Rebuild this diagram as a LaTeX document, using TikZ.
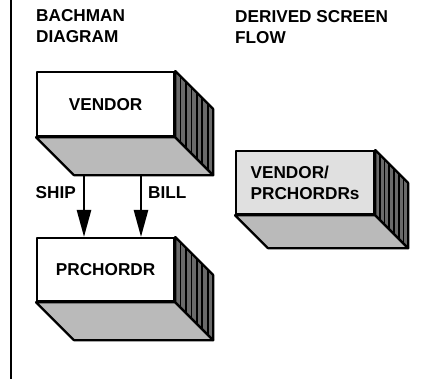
\documentclass[tikz,border=0pt]{standalone}
\usepackage{fontspec}
\setmainfont{Liberation Sans}
\usepackage{tikz}
\usetikzlibrary{calc,arrows.meta,positioning}
\usepackage{xcolor}
\definecolor{sidegray}{HTML}{6A6A6A}
\definecolor{floorgray}{HTML}{BABABA}
\definecolor{screengray}{HTML}{E0E0E0}
\newcommand{\boxfont}{\fontsize{17.2}{21}\selectfont\bfseries}
\tikzset{
  face/.style={line width=2.2pt, draw=black, line join=round},
  front/.style={face, fill=white, minimum width=137pt, minimum height=64pt, inner sep=0pt, anchor=north west, font=\boxfont, align=left},
  sideface/.style={face, fill=sidegray},
  floorface/.style={face, fill=floorgray},
  stripe/.style={line width=1.7pt, draw=black},
  link/.style={line width=2.5pt, draw=black, -{Triangle[length=27pt,width=14pt]}},
  heading/.style={font=\boxfont, align=left, anchor=base west, inner sep=0pt},
  rule/.style={line width=1.8pt, draw=black},
}

\begin{document}
\begin{tikzpicture}[x=1pt, y=-1pt]
  \useasboundingbox (0,0) rectangle (424,379);
  \draw[rule] (11,0) -- (11,379);
  % column headings (base is the last line)
  \node[heading] (bachman) at (36,43) {BACHMAN\\DIAGRAM};
  \node[heading] (derived) at (235,44) {DERIVED SCREEN\\FLOW};
  % front faces
  \node[front] (vendor) at (36,71) {VENDOR};
  \node[front, minimum height=63pt] (prch) at (36,237) {PRCHORDR};
  \node[front, fill=screengray, minimum width=138pt, minimum height=63pt, yshift=2pt] (screen) at (235,152) {VENDOR/\\PRCHORDRs};
  % side and floor of each box
  \foreach \n/\d in {vendor/38, prch/38, screen/33}{
    \draw[floorface] (\n.south west) -- (\n.south east) -- ++(\d,\d)
      -- ($(\n.south west)+(\d,\d)$) -- cycle;
    \draw[sideface] (\n.north east) -- ++(\d,\d) -- ($(\n.south east)+(\d,\d)$)
      -- (\n.south east) -- cycle;
    \foreach \k in {1,...,6}{
      \pgfmathsetmacro{\t}{\k*\d/7}
      \draw[stripe] ($(\n.north east)+(\t,\t)$) -- ($(\n.south east)+(\t,\t)$);
    }
  }
  % SHIP and BILL links
  \coordinate (shipout) at ($(vendor.south west)+(48,38)$);
  \coordinate (billout) at ($(vendor.south west)+(105,38)$);
  \draw[link] (shipout) -- (shipout |- prch.north);
  \draw[link] (billout) -- (billout |- prch.north);
  \node[heading, anchor=base east] (ship) at (76,199) {SHIP};
  \node[heading] (bill) at (148,199) {BILL};
\end{tikzpicture}
\end{document}
